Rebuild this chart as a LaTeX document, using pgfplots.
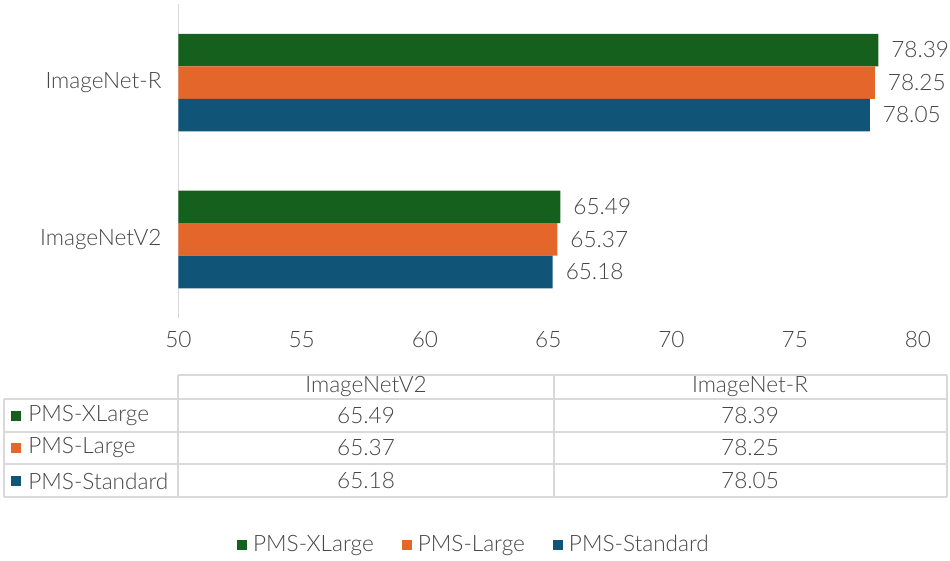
\documentclass[border=0pt]{standalone}
\usepackage{pgfplots}
\pgfplotsset{compat=1.18}
\usepackage{fontspec}
\setmainfont{Lato Light}
\definecolor{cgreen}{RGB}{22,96,30}
\definecolor{corange}{RGB}{229,102,43}
\definecolor{cblue}{RGB}{16,85,120}
\definecolor{ctext}{RGB}{70,70,70}
\definecolor{cgrid}{RGB}{217,217,217}
\newcommand{\cfont}{\fontsize{11.3}{13}\selectfont}
\begin{document}
\begin{tikzpicture}
\useasboundingbox (0,0) rectangle (475pt,-280.5pt);
\begin{axis}[
  at={(89.25pt,-159pt)}, anchor=south west,
  scale only axis, width=369.75pt, height=157pt,
  xbar, bar width=16.25pt,
  xmin=50, xmax=80, ymin=-0.5, ymax=1.5,
  xtick={50,55,60,65,70,75,80},
  ytick={0,1}, yticklabels={ImageNetV2,ImageNet-R},
  axis x line=bottom, axis y line=left,
  x axis line style={draw=none},
  y axis line style={draw=cgrid, line width=0.75pt, -},
  major tick length=0pt,
  tick label style={font=\cfont, text=ctext},
  xticklabel style={yshift=-3pt},
  yticklabel style={xshift=-5pt},
  /pgf/number format/assume math mode=true,
  point meta=x,
  nodes near coords={\pgfmathprintnumber[fixed,fixed zerofill,precision=2]{\pgfplotspointmeta}},
  nodes near coords style={font=\cfont, text=ctext, xshift=3pt},
  legend style={at={(0.401,-0.723)}, anchor=center, draw=none, fill=none,
    legend columns=3, font=\cfont, text=ctext,
    /tikz/every even column/.style={column sep=12pt},
    /tikz/every odd column/.style={column sep=1pt}},
]
\addplot[fill=cgreen, draw=none, bar shift=16.25pt,
  legend image code/.code={\fill[cgreen] (0pt,-2.5pt) rectangle (5pt,2.5pt);}]
  coordinates {(65.49,0) (78.39,1)};
\addplot[fill=corange, draw=none, bar shift=0pt,
  legend image code/.code={\fill[corange] (0pt,-2.5pt) rectangle (5pt,2.5pt);}]
  coordinates {(65.37,0) (78.25,1)};
\addplot[fill=cblue, draw=none, bar shift=-16.25pt,
  legend image code/.code={\fill[cblue] (0pt,-2.5pt) rectangle (5pt,2.5pt);}]
  coordinates {(65.18,0) (78.05,1)};
\legend{PMS-XLarge,PMS-Large,PMS-Standard}
\end{axis}
\begin{scope}[x=0.5pt,y=-0.5pt]
  \draw[cgrid, line width=0.75pt]
    (178,375) -- (947,375)
    (4,399) -- (947,399)
    (4,432) -- (947,432)
    (4,464) -- (947,464)
    (4,497) -- (947,497)
    (178,375) -- (178,497)
    (554,375) -- (554,497)
    (947,375) -- (947,497)
    (4,399) -- (4,497);
  \begin{scope}[every node/.style={font=\cfont, text=ctext, inner sep=0pt}]
    \node at (366,387) {ImageNetV2};
    \node at (750,387) {ImageNet-R};
    \node at (366,416) {65.49};
    \node at (750,416) {78.39};
    \node at (366,448) {65.37};
    \node at (750,448) {78.25};
    \node at (366,481) {65.18};
    \node at (750,481) {78.05};
    \fill[cgreen] (11,411) rectangle (21,421);
    \fill[corange] (11,443) rectangle (21,453);
    \fill[cblue] (11,476) rectangle (21,486);
    \node[anchor=west] at (28,416) {PMS-XLarge};
    \node[anchor=west] at (28,448) {PMS-Large};
    \node[anchor=west] at (28,481) {PMS-Standard};
  \end{scope}
\end{scope}
\end{tikzpicture}
\end{document}
